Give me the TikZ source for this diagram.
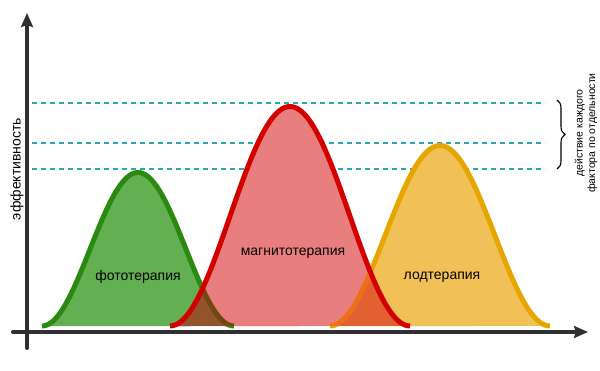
\documentclass[tikz,border=0pt]{standalone}
\usepackage{fontspec}
\setmainfont{Liberation Sans}
\usetikzlibrary{arrows.meta,decorations.pathreplacing}

\definecolor{photofill}{RGB}{98,176,82}
\definecolor{photoline}{RGB}{42,138,16}
\definecolor{magnfill}{RGB}{232,126,126}
\definecolor{magnline}{RGB}{212,0,0}
\definecolor{lodfill}{RGB}{241,192,86}
\definecolor{lodline}{RGB}{230,166,0}
\definecolor{mixbrown}{RGB}{146,84,44}
\definecolor{mixbrownline}{RGB}{112,72,16}
\definecolor{mixorange}{RGB}{226,96,50}
\definecolor{mixorangeline}{RGB}{236,112,24}
\definecolor{axisgray}{RGB}{48,48,48}
\definecolor{levelteal}{RGB}{38,168,184}

% bell curve: centre, height, half width
\newcommand{\bell}[3]{plot[domain=-#3:#3,samples=80] ({#1+\x},{44+#2*(1+cos(\x/#3*180))/2})}

\tikzset{
  axis/.style={line width=4pt, axisgray, line cap=round, -{Stealth[length=14pt,width=12pt,inset=2pt]}},
  level/.style={levelteal, line width=1.1pt, dash pattern=on 5pt off 4pt},
  curve/.style={line width=5pt},
  lbl/.style={font=\fontsize{14}{16}\selectfont},
  small/.style={font=\fontsize{10.5}{12.5}\selectfont, align=center}
}

\begin{document}
\begin{tikzpicture}[x=1pt, y=1pt]
  \useasboundingbox (0,0) rectangle (600,370);

  % levels
  \coordinate (l1a) at (32,267);  \coordinate (l1b) at (545,267);
  \coordinate (l2a) at (32,227);  \coordinate (l2b) at (545,227);
  \coordinate (l3a) at (32,201);  \coordinate (l3b) at (545,201);
  \draw[level] (l1a) -- (l1b);
  \draw[level] (l2a) -- (l2b);
  \draw[level] (l3a) -- (l3b);

  % curves
  \fill[photofill] \bell{138}{153.5}{96} -- cycle;
  \draw[curve, photoline] \bell{138}{153.5}{96};
  \fill[lodfill] \bell{440}{180.5}{110} -- cycle;
  \draw[curve, lodline] \bell{440}{180.5}{110};
  \fill[magnfill] \bell{290}{219.5}{120} -- cycle;

  % overlaps
  \begin{scope}
    \clip \bell{290}{219.5}{120} -- cycle;
    \begin{scope}
      \clip \bell{138}{153.5}{96} -- cycle;
      \fill[mixbrown] (130,40) rectangle (250,230);
    \end{scope}
    \begin{scope}
      \clip \bell{440}{180.5}{110} -- cycle;
      \fill[mixorange] (320,40) rectangle (420,230);
    \end{scope}
    \draw[curve, mixbrownline] \bell{138}{153.5}{96};
    \draw[curve, mixorangeline] \bell{440}{180.5}{110};
  \end{scope}
  \draw[curve, magnline] \bell{290}{219.5}{120};

  % axes
  \coordinate (o) at (27,22);
  \coordinate (ytop) at (27,357);
  \coordinate (xleft) at (13,38);
  \coordinate (xright) at (588,38);
  \draw[axis] (o) -- (ytop);
  \draw[axis] (xleft) -- (xright);

  \node (ylbl) at (17,201) [rotate=90, lbl] {эффективность};
  \node (photo) at (138,93) [lbl] {фототерапия};
  \node (magn) at (293,117) [lbl] {магнитотерапия};
  \node (lod) at (442,93) [lbl] {лодтерапия};

  % brace
  \coordinate (btop) at (557,270);
  \coordinate (bbot) at (557,201);
  \draw[line width=1.1pt, decorate, decoration={brace, amplitude=8pt}] (btop) -- (bbot);
  \node (note) at (586,237) [rotate=90, small] {действие каждого\\фактора по отдельности};
\end{tikzpicture}
\end{document}
